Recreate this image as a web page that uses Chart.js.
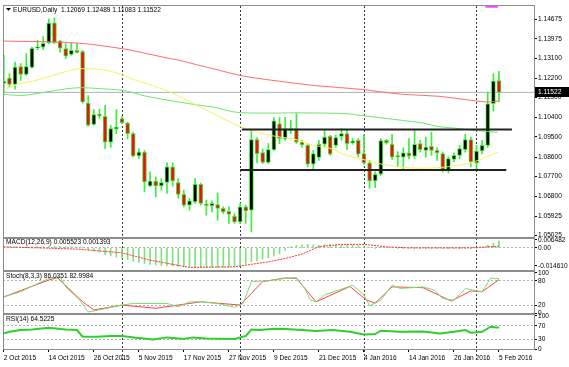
<!DOCTYPE html>
<html>
<head>
<meta charset="utf-8">
<script src="https://cdn.jsdelivr.net/npm/chart.js@4.4.0/dist/chart.umd.min.js"></script>
<style>
  html, body { margin: 0; padding: 0; background: #fff; }
  #wrap { position: relative; width: 569px; height: 367px; }
</style>
</head>
<body>
<div id="wrap"><canvas id="chart" width="569" height="367"></canvas></div>
<script>
// EURUSD daily, 2 Oct 2015 .. 5 Feb 2016 (bar index 0..88)
const opens = [1.1194,1.1218,1.1189,1.1271,1.1235,1.1267,1.1357,1.1360,1.1380,1.1472,
  1.1388,1.1353,1.1327,1.1345,1.1340,1.1103,1.1005,1.1051,1.1042,1.0924,
  1.0984,1.1032,1.1011,1.0963,1.0860,1.0878,1.0722,1.0745,1.0722,1.0738,
  1.0810,1.0738,1.0684,1.0634,1.0649,1.0730,1.0636,1.0631,1.0637,1.0619,
  1.0606,1.0583,1.0557,1.0626,1.0611,1.0935,1.0876,1.0830,1.0889,1.1008,
  1.0938,1.0986,1.0986,1.0924,1.0909,1.0822,1.0853,1.0914,1.0950,1.0909,
  1.0950,1.0963,1.0920,1.0932,1.0871,1.0828,1.0745,1.0776,1.0932,1.0914,
  1.0860,1.0855,1.0874,1.0859,1.0917,1.0886,1.0904,1.0886,1.0871,1.0793,
  1.0844,1.0863,1.0889,1.0935,1.0828,1.0883,1.0909,1.1100,1.12069];
const highs = [1.1322,1.1238,1.1291,1.1284,1.1331,1.1360,1.1391,1.1409,1.1490,1.1495,
  1.1392,1.1376,1.1378,1.1378,1.1345,1.1138,1.1073,1.1076,1.1093,1.1001,
  1.1073,1.1042,1.1016,1.0970,1.0894,1.0886,1.0787,1.0764,1.0756,1.0828,
  1.0828,1.0756,1.0703,1.0665,1.0756,1.0736,1.0657,1.0654,1.0690,1.0626,
  1.0626,1.0596,1.0642,1.0634,1.0981,1.0944,1.0892,1.0917,1.1036,1.1035,
  1.1038,1.1024,1.1057,1.0932,1.0917,1.0886,1.0932,1.0978,1.0955,1.0955,
  1.0986,1.0978,1.0940,1.0940,1.0960,1.0840,1.0787,1.0940,1.0937,1.0960,
  1.0880,1.0898,1.0940,1.0978,1.0932,1.0947,1.0970,1.0898,1.0878,1.0855,
  1.0874,1.0909,1.0960,1.0947,1.0909,1.0932,1.1154,1.1238,1.12489];
const lows = [1.1152,1.1177,1.1167,1.1207,1.1229,1.1263,1.1348,1.1348,1.1376,1.1376,
  1.1337,1.1307,1.1322,1.1332,1.1103,1.0996,1.1001,1.1032,1.0894,1.0899,
  1.0963,1.1009,1.0940,1.0855,1.0848,1.0695,1.0718,1.0672,1.0703,1.0688,
  1.0721,1.0665,1.0626,1.0611,1.0642,1.0634,1.0588,1.0603,1.0565,1.0596,
  1.0550,1.0550,1.0550,1.0550,1.0511,1.0828,1.0825,1.0825,1.0883,1.0917,
  1.0931,1.0963,1.0918,1.0900,1.0811,1.0802,1.0840,1.0901,1.0863,1.0899,
  1.0932,1.0889,1.0914,1.0855,1.0822,1.0711,1.0715,1.0771,1.0914,1.0844,
  1.0810,1.0802,1.0848,1.0848,1.0878,1.0855,1.0863,1.0840,1.0787,1.0782,
  1.0833,1.0848,1.0878,1.0810,1.0802,1.0871,1.0901,1.1066,1.11083];
const closes = [1.1203,1.1189,1.1268,1.1235,1.1271,1.1355,1.1362,1.1378,1.1470,1.1380,
  1.1355,1.1319,1.1345,1.1336,1.1108,1.1001,1.1050,1.1044,1.0924,1.0986,
  1.0993,1.1013,1.0963,1.0860,1.0878,1.0741,1.0745,1.0722,1.0738,1.0810,
  1.0745,1.0684,1.0634,1.0654,1.0730,1.0642,1.0633,1.0642,1.0619,1.0603,
  1.0591,1.0557,1.0626,1.0608,1.0935,1.0871,1.0830,1.0889,1.1021,1.0940,
  1.0986,1.0976,1.0924,1.0911,1.0822,1.0871,1.0914,1.0947,1.0868,1.0944,
  1.0963,1.0917,1.0929,1.0868,1.0828,1.0745,1.0776,1.0931,1.0920,1.0855,
  1.0857,1.0874,1.0859,1.0914,1.0889,1.0901,1.0886,1.0874,1.0798,1.0848,
  1.0863,1.0894,1.0935,1.0833,1.0883,1.0909,1.1100,1.1204,1.11522];

// moving averages: [bar, price]
const maRed = [[0,1.1388],[13.5,1.1378],[21,1.1353],[22.4,1.1347],[28.3,1.1314],[31.3,1.1299],
  [34.3,1.1279],[37.2,1.1261],[42,1.1230],[46.4,1.1212],[49.1,1.1203],[55,1.1184],[64,1.1165],
  [66.9,1.1155],[71,1.1143],[77.5,1.1134],[82.9,1.1116],[86.4,1.1108],[88,1.1113]];
const maYellow = [[0,1.1167],[2.9,1.1192],[5.2,1.1204],[8.2,1.1226],[11.2,1.1249],[13.9,1.1261],
  [17.1,1.1258],[20.1,1.1241],[23,1.1212],[25.4,1.1192],[29.5,1.1154],[34.3,1.1093],[37.2,1.1055],
  [40.2,1.1016],[42.5,1.0990],[46.4,1.0960],[49.1,1.0947],[51.4,1.0939],[55,1.0909],[57.4,1.0900],
  [61,1.0863],[64.5,1.0840],[66.3,1.0827],[69.5,1.0813],[73.4,1.0804],[77.5,1.0807],[83.4,1.0832],[87.8,1.0878]];
const maGreen = [[0,1.1143],[2.9,1.1138],[6.4,1.1149],[11.2,1.1169],[13.9,1.1174],[17.1,1.1169],
  [21.2,1.1161],[25.4,1.1134],[28.3,1.1120],[34.3,1.1095],[37.2,1.1085],[42,1.1059],[46.4,1.1057],
  [52.1,1.1058],[57.4,1.1057],[61,1.1054],[63.3,1.1047],[66.9,1.1036],[71,1.1023],[74.5,1.1011],
  [77,1.0996],[80.5,1.0987],[84.1,1.0976],[87.8,1.0969]];

// hand drawn objects
const bidPrice = 1.11522;
const resistLine = [42.3, 90.3, 1.0982];
const supportLine = [42, 89.3, 1.0796];
const pinkMark = [85.6, 87.8, 1.1545];

// MACD(12,26,9)
const macdMain = [0.0005,0.0005,0.0006,0.0007,0.0008,0.0009,0.0010,0.0010,0.0012,0.0013,
  0.0012,0.0010,0.0008,0.0006,0.0003,-0.0015,-0.0025,-0.0035,-0.0055,-0.0065,
  -0.0075,-0.0085,-0.0095,-0.0110,-0.0118,-0.0128,-0.0133,-0.0138,-0.0142,-0.0143,
  -0.0145,-0.0149,-0.0153,-0.0156,-0.0157,-0.0158,-0.0160,-0.0160,-0.0160,-0.0158,
  -0.0156,-0.0153,-0.0148,-0.0128,-0.0112,-0.0103,-0.0092,-0.0080,-0.0065,-0.0050,
  -0.0020,0.0010,0.0020,0.0025,0.0028,0.0025,0.0022,0.0025,0.0028,0.0026,
  0.0024,0.0025,0.0022,0.0018,0.0012,0.0005,-0.0002,0.0002,0.0003,0.0001,
  -0.0002,-0.0004,-0.0005,-0.0004,-0.0003,-0.0002,-0.0002,-0.0003,-0.0004,-0.0006,
  -0.0007,-0.0006,-0.0004,-0.0002,-0.0003,0.0000,0.0020,0.0038,0.005523];
const macdSignal = [[0,0.0008],[6,0.0000],[13,-0.0010],[21,-0.0040],[26,-0.0100],[33,-0.0158],
  [41,-0.0153],[47,-0.0113],[50,-0.0086],[53,-0.0050],[56,0.0010],[60,0.0028],[64,0.0028],
  [68,0.0008],[72,0.0000],[83,0.0000],[86,0.0008],[88,0.001393]];

// Stochastic(8,3,3)
const stochMain = [[0,40],[3,53],[8,86],[10,90],[11,65],[13.5,32],[15,3],[17,8],[21,20],[23,24],
  [29,24],[31,16],[33,28],[35,28],[38,24],[41,14],[42.5,24],[44,78],[47,80],[50,86],[52,88],
  [53.5,61],[54.5,32],[55.5,28],[57,45],[62,69],[64,45],[65,18],[67,32],[69,69],[70.5,61],
  [74.5,65],[76.5,57],[78,36],[80,32],[82,61],[84,55],[85,53],[86.5,86],[88,86.0351]];
const stochSignal = [[0,40],[8,82],[9.5,88],[14,28],[16,8],[21,20],[27,12],[35,28],[42,20],
  [46,78],[50,87],[52,86],[54,53],[55.5,28],[61.5,66],[64.5,32],[66,25],[69,65],[74.5,63],
  [79.5,30],[83,55],[85,53],[88,82.9984]];

// RSI(14)
const rsi = [[0,47],[1,52],[3,57],[5,59],[8,64],[11,59],[13,57],[14,37],[16.5,37],[19,39],
  [21,39],[23.5,34],[26.5,29],[29,35],[32,30],[33.5,35],[36,32],[41,30],[42,35],[43,39],
  [44,59],[45.5,57],[48,61],[50,60],[53,57],[55.5,54],[58.5,57],[61.5,52],[64,44],[66,45],
  [67,55],[70.5,52],[74.5,53],[77.5,47],[80,52],[82,57],[83,49],[85,52],[86.5,67],[87.5,65],[88,64.5225]];

// axis labels (price labels sit at the levels where the terminal printed them)
const xTickIdx = [0,8,16,24,32,40,48,56,64,72,80,88];
const xTickLabels = ['2 Oct 2015','14 Oct 2015','26 Oct 2015','5 Nov 2015','17 Nov 2015','27 Nov 2015',
  '9 Dec 2015','21 Dec 2015','4 Jan 2016','14 Jan 2016','26 Jan 2016','5 Feb 2016'];
const monthStarts = [21, 42, 64, 84];
const priceTicks = ['1.14675','1.13975','1.13100','1.12200','1.11300','1.10400','1.09500',
  '1.08600','1.07700','1.06800','1.05925','1.05025'];
const priceTickAt = [1.14871,1.13985,1.13082,1.12178,1.11279,1.10375,1.09481,
  1.08540,1.07655,1.06751,1.05833,1.04949];
const macdTicks = ['0.006482','0.00','-0.014610'];
const stochTicks = [100, 80, 20, 0];
const rsiTicks = [100, 70, 30, 0];

const FONT = {family: 'Liberation Sans, Arial, sans-serif', size: 6.6};
const WICK = '#3bec3b';
const n = closes.length;
const bars = closes.map((c, i) => i);
const pts = arr => arr.map(p => ({x: p[0], y: p[1]}));

function fixedTicks(values) {
  return scale => { scale.ticks = values.map(v => ({value: v})); };
}
function paneAxis(weight, min, max, ticks, labels, levels) {
  return {
    type: 'linear', position: 'right', stack: 'panes', stackWeight: weight,
    min: min, max: max,
    afterBuildTicks: fixedTicks(ticks),
    afterFit: s => { s.width = 35; },
    ticks: {autoSkip: false, color: '#000', font: FONT, padding: 1,
      callback: (v, i) => labels ? labels[i] : String(v)},
    grid: {
      drawOnChartArea: !!levels, drawTicks: true, tickLength: 3, tickColor: '#000', lineWidth: 1,
      color: ctx => (levels && ctx.tick && levels.includes(ctx.tick.value)) ? '#b4b4b4' : 'rgba(0,0,0,0)'
    },
    border: {display: false, dash: [2, 2]}
  };
}

const panes = {
  id: 'panes',
  beforeDatasetsDraw(chart) {
    const {ctx, chartArea: a, scales: {x}} = chart;
    ctx.save();
    ctx.strokeStyle = '#3a3a3a';
    ctx.lineWidth = 1;
    ctx.setLineDash([2, 2]);
    monthStarts.forEach(i => {
      const px = Math.round(x.getPixelForValue(i)) + 0.5;
      ctx.beginPath(); ctx.moveTo(px, a.top); ctx.lineTo(px, 361); ctx.stroke();
    });
    ctx.restore();
  },
  afterDatasetsDraw(chart) {
    const {ctx, chartArea: a, scales} = chart;
    ctx.save();
    ctx.fillStyle = '#8c8c8c';
    // frame
    ctx.fillRect(a.left, a.top - 1, a.right - a.left + 1, 1);
    ctx.fillRect(a.left, a.top - 1, 1, a.bottom - a.top + 1);
    ctx.fillRect(a.right, a.top - 1, 1, a.bottom - a.top + 2);
    ctx.fillRect(a.left, a.bottom, a.right - a.left + 1, 1);
    // pane splitters
    ['yMacd', 'yStoch', 'yRsi'].forEach(id => {
      const y = Math.round(scales[id].top);
      ctx.fillRect(a.left, y - 1, a.right - a.left + 1, 2);
    });
    ctx.restore();
  },
  afterDraw(chart) {
    const {ctx, chartArea: a, scales} = chart;
    ctx.save();
    ctx.font = FONT.size + 'px ' + FONT.family;
    ctx.textBaseline = 'middle';
    ctx.fillStyle = '#000';
    // header
    ctx.beginPath(); ctx.moveTo(6, 8); ctx.lineTo(11, 8); ctx.lineTo(8.5, 11); ctx.closePath(); ctx.fill();
    const last = n - 1;
    const f5 = v => v.toFixed(5);
    ctx.fillText('EURUSD,Daily  ' + [opens[last], highs[last], lows[last], closes[last]].map(f5).join(' '), 13, 10);
    const mLast = macdMain[last], sLast = macdSignal[macdSignal.length - 1][1];
    ctx.fillText('MACD(12,26,9) ' + mLast.toFixed(6) + ' ' + sLast.toFixed(6), 6, scales.yMacd.top + 5);
    ctx.fillText('Stoch(8,3,3) ' + stochMain[stochMain.length - 1][1].toFixed(4) + ' ' +
      stochSignal[stochSignal.length - 1][1].toFixed(4), 6, scales.yStoch.top + 5);
    ctx.fillText('RSI(14) ' + rsi[rsi.length - 1][1].toFixed(4), 6, scales.yRsi.top + 5);
    // current price tag
    const py = Math.round(scales.yMain.getPixelForValue(bidPrice));
    ctx.fillRect(a.right + 1, py - 5, 568 - a.right, 10);
    ctx.fillStyle = '#fff';
    ctx.fillText(bidPrice.toFixed(5), a.right + 4, py);
    ctx.restore();
  }
};

new Chart(document.getElementById('chart'), {
  type: 'bar',
  data: {
    datasets: [
      {type: 'line', yAxisID: 'yMain', data: [{x: pinkMark[0], y: pinkMark[2]}, {x: pinkMark[1], y: pinkMark[2]}],
        borderColor: '#ff44ff', borderWidth: 2, pointRadius: 0},
      {type: 'line', yAxisID: 'yMain', data: [{x: resistLine[0], y: resistLine[2]}, {x: resistLine[1], y: resistLine[2]}],
        borderColor: '#222', borderWidth: 2, pointRadius: 0},
      {type: 'line', yAxisID: 'yMain', data: [{x: supportLine[0], y: supportLine[2]}, {x: supportLine[1], y: supportLine[2]}],
        borderColor: '#222', borderWidth: 2, pointRadius: 0},
      {type: 'line', yAxisID: 'yMain', data: pts(maRed), borderColor: '#ff6b6b', borderWidth: 1,
        pointRadius: 0, cubicInterpolationMode: 'monotone'},
      {type: 'line', yAxisID: 'yMain', data: pts(maYellow), borderColor: '#f7f35a', borderWidth: 1,
        pointRadius: 0, cubicInterpolationMode: 'monotone'},
      {type: 'line', yAxisID: 'yMain', data: pts(maGreen), borderColor: '#6ee66e', borderWidth: 1,
        pointRadius: 0, cubicInterpolationMode: 'monotone'},
      // candle bodies
      {yAxisID: 'yMain', grouped: false, barThickness: 4, minBarLength: 1, borderWidth: 1, borderSkipped: false,
        borderColor: WICK,
        backgroundColor: closes.map((c, i) => c >= opens[i] ? '#000' : '#ee1111'),
        data: bars.map(i => ({x: i, y: [opens[i], closes[i]]}))},
      // wicks
      {yAxisID: 'yMain', grouped: false, barThickness: 1, backgroundColor: WICK,
        data: bars.map(i => ({x: i, y: [lows[i], highs[i]]}))},
      {type: 'line', yAxisID: 'yMain', data: [{x: -1, y: bidPrice}, {x: 100, y: bidPrice}],
        borderColor: '#aab2c0', borderWidth: 1, pointRadius: 0},
      // MACD
      {type: 'line', yAxisID: 'yMacd', data: pts(macdSignal), borderColor: '#ff3030', borderWidth: 1,
        borderDash: [2, 1], pointRadius: 0},
      {yAxisID: 'yMacd', grouped: false, barThickness: 1, backgroundColor: '#7fe27f',
        data: macdMain.map((v, i) => ({x: i, y: v}))},
      // Stochastic
      {type: 'line', yAxisID: 'yStoch', data: pts(stochMain), borderColor: '#74e074', borderWidth: 1, pointRadius: 0},
      {type: 'line', yAxisID: 'yStoch', data: pts(stochSignal), borderColor: '#ff4040', borderWidth: 1, pointRadius: 0},
      // RSI
      {type: 'line', yAxisID: 'yRsi', data: pts(rsi), borderColor: '#2ccf2c', borderWidth: 2, pointRadius: 0}
    ]
  },
  options: {
    responsive: false,
    animation: false,
    devicePixelRatio: 1,
    layout: {padding: {left: 3, top: 6, right: 0, bottom: 0}},
    plugins: {legend: {display: false}, tooltip: {enabled: false}},
    scales: {
      x: {
        type: 'linear', position: 'bottom', min: -0.142, max: 94.22, offset: false,
        afterBuildTicks: fixedTicks(xTickIdx),
        afterFit: s => { s.height = 18; },
        ticks: {autoSkip: false, maxRotation: 0, align: 'start', color: '#000', font: FONT, padding: 2,
          callback: (v, i) => xTickLabels[i]},
        grid: {offset: false, drawOnChartArea: false, drawTicks: true, tickLength: 3, tickColor: '#000'},
        border: {display: false}
      },
      yMain: paneAxis(232, 1.04848, 1.15490, priceTickAt, priceTicks, null),
      yMacd: paneAxis(33.5, -0.01879, 0.00823, macdTicks.map(Number), macdTicks, [0]),
      yStoch: paneAxis(43.3, -3, 104, stochTicks, null, [80, 20]),
      yRsi: paneAxis(34.7, 0, 104.4, rsiTicks, null, [70, 30])
    }
  },
  plugins: [panes]
});
</script>
</body>
</html>
